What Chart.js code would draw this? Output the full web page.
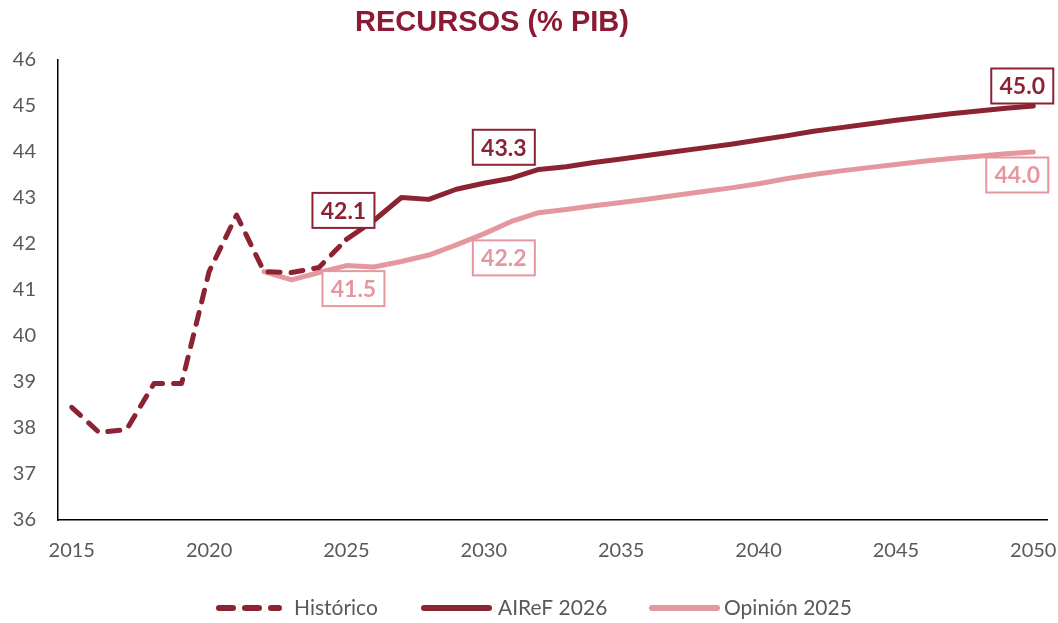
<!DOCTYPE html>
<html>
<head>
<meta charset="utf-8">
<script src="https://cdn.jsdelivr.net/npm/chart.js@4/dist/chart.umd.min.js"></script>
<style>
html,body{margin:0;padding:0;background:#fff;}
#wrap{width:1058px;height:623px;position:relative;}
</style>
</head>
<body>
<div id="wrap"><canvas id="c" width="1058" height="623"></canvas></div>
<script>
const years = [];
for (let y = 2015; y <= 2050; y++) years.push(String(y));

const historico = [38.45, 37.90, 37.97, 38.97, 38.97, 41.40, 42.63, 41.40, 41.38, 41.49, 42.10,
  null,null,null,null,null,null,null,null,null,null,null,null,null,null,null,null,null,null,null,null,null,null,null,null,null];

const airef2026 = [null,null,null,null,null,null,null,null,null,null,
  42.10, 42.51, 43.01, 42.97, 43.19, 43.32, 43.43, 43.62, 43.68, 43.77,
  43.85, 43.93, 44.01, 44.09, 44.17, 44.26, 44.35, 44.45, 44.53, 44.61,
  44.69, 44.76, 44.83, 44.89, 44.95, 45.00];

const opinion2025 = [null,null,null,null,null,null,null,
  41.40, 41.22, 41.38, 41.53, 41.50, 41.62, 41.76, 41.98, 42.22, 42.49, 42.68, 42.75, 42.83,
  42.90, 42.98, 43.06, 43.14, 43.22, 43.31, 43.42, 43.51, 43.59, 43.66,
  43.73, 43.80, 43.86, 43.91, 43.96, 44.00];

const yTicks = [36,37,38,39,40,41,42,43,44,45,46];

const DARK = '#8B2332';
const PINK = '#E597A0';
const GREY = '#595959';
const FONT = 'Lato, "Open Sans", sans-serif';

// label callouts: dataset index, year, offset of box centre from point (px)
const callouts = [
  {ds: 1, year: '2025', dx: -3, dy: -29},
  {ds: 1, year: '2030', dx: 20, dy: -36},
  {ds: 1, year: '2050', dx: -11, dy: -20},
  {ds: 2, year: '2025', dx: 7, dy: 23},
  {ds: 2, year: '2030', dx: 20, dy: 24},
  {ds: 2, year: '2050', dx: -16, dy: 23}
];

const calloutPlugin = {
  id: 'callouts',
  afterDatasetsDraw(chart) {
    const ctx = chart.ctx;
    const xs = chart.scales.x, ys = chart.scales.y;
    callouts.forEach(c => {
      const ds = chart.data.datasets[c.ds];
      const i = years.indexOf(c.year);
      const v = ds.data[i];
      const px = xs.getPixelForValue(i);
      const py = ys.getPixelForValue(v);
      const cx = px + c.dx, cy = py + c.dy;
      const w = 62, h = 35;
      ctx.save();
      ctx.fillStyle = '#fff';
      ctx.fillRect(cx - w/2, cy - h/2, w, h);
      ctx.strokeStyle = ds.borderColor;
      ctx.lineWidth = 2;
      ctx.strokeRect(cx - w/2, cy - h/2, w, h);
      ctx.fillStyle = ds.borderColor;
      ctx.font = 'bold 23px ' + FONT;
      ctx.textAlign = 'center';
      ctx.textBaseline = 'middle';
      ctx.fillText(v.toFixed(1), cx, cy + 1);
      ctx.restore();
    });
  }
};

const titlePlugin = {
  id: 'customTitle',
  afterDraw(chart) {
    const ctx = chart.ctx;
    ctx.save();
    ctx.fillStyle = '#8B1A35';
    ctx.font = 'bold 29px "Liberation Sans", Arial, sans-serif';
    ctx.textAlign = 'center';
    ctx.textBaseline = 'middle';
    ctx.fillText('RECURSOS (% PIB)', 492, 23);
    ctx.restore();
  }
};

const legendPlugin = {
  id: 'customLegend',
  afterDraw(chart) {
    const ctx = chart.ctx;
    const items = [
      {ds: 0, x0: 216, x1: 282, tx: 294},
      {ds: 1, x0: 421, x1: 492, tx: 498},
      {ds: 2, x0: 649, x1: 720, tx: 724}
    ];
    const y = 608;
    ctx.save();
    items.forEach(it => {
      const ds = chart.data.datasets[it.ds];
      ctx.strokeStyle = ds.borderColor;
      ctx.lineWidth = 6;
      ctx.lineCap = 'round';
      ctx.setLineDash(ds.borderDash && ds.borderDash.length ? [14, 12] : []);
      ctx.beginPath();
      ctx.moveTo(it.x0 + 3, y);
      ctx.lineTo(it.x1 - 3, y);
      ctx.stroke();
      ctx.setLineDash([]);
      ctx.fillStyle = GREY;
      ctx.font = '21px ' + FONT;
      ctx.textAlign = 'left';
      ctx.textBaseline = 'middle';
      ctx.fillText(ds.label, it.tx, y);
    });
    ctx.restore();
  }
};

new Chart(document.getElementById('c'), {
  type: 'line',
  data: {
    labels: years,
    datasets: [
      {label: 'Histórico', data: historico, borderColor: DARK, backgroundColor: DARK,
       borderWidth: 5, borderDash: [12, 11], borderCapStyle: 'round', borderJoinStyle: 'round',
       pointRadius: 0, tension: 0},
      {label: 'AIReF 2026', data: airef2026, borderColor: DARK, backgroundColor: DARK,
       borderWidth: 5, borderCapStyle: 'round', borderJoinStyle: 'round', pointRadius: 0, tension: 0},
      {label: 'Opinión 2025', data: opinion2025, borderColor: PINK, backgroundColor: PINK,
       borderWidth: 5, borderCapStyle: 'round', borderJoinStyle: 'round', pointRadius: 0, tension: 0}
    ]
  },
  options: {
    responsive: false,
    animation: false,
    devicePixelRatio: 1,
    layout: {padding: {top: 60, right: 11, left: 0, bottom: 0}},
    plugins: {
      legend: {display: false},
      title: {display: false},
      tooltip: {enabled: false}
    },
    scales: {
      x: {
        type: 'category',
        offset: true,
        grid: {display: false, drawTicks: false},
        border: {display: true, color: '#000', width: 1.5},
        ticks: {
          autoSkip: false, maxRotation: 0, padding: 19,
          color: GREY, font: {family: FONT, size: 20},
          callback: function(v, i) { const yr = +years[i]; return yr % 5 === 0 ? String(yr) : ''; }
        },
        afterFit: s => { s.height = 103; s.paddingLeft = 0; s.paddingRight = 0; }
      },
      y: {
        min: 36, max: 46,
        grid: {display: false, drawTicks: false},
        border: {display: true, color: '#000', width: 1.5},
        afterBuildTicks: s => { s.ticks = yTicks.map(v => ({value: v})); },
        ticks: {padding: 22, color: GREY, font: {family: FONT, size: 20}},
        afterFit: s => { s.width = 58; }
      }
    }
  },
  plugins: [calloutPlugin, titlePlugin, legendPlugin]
});
</script>
</body>
</html>
